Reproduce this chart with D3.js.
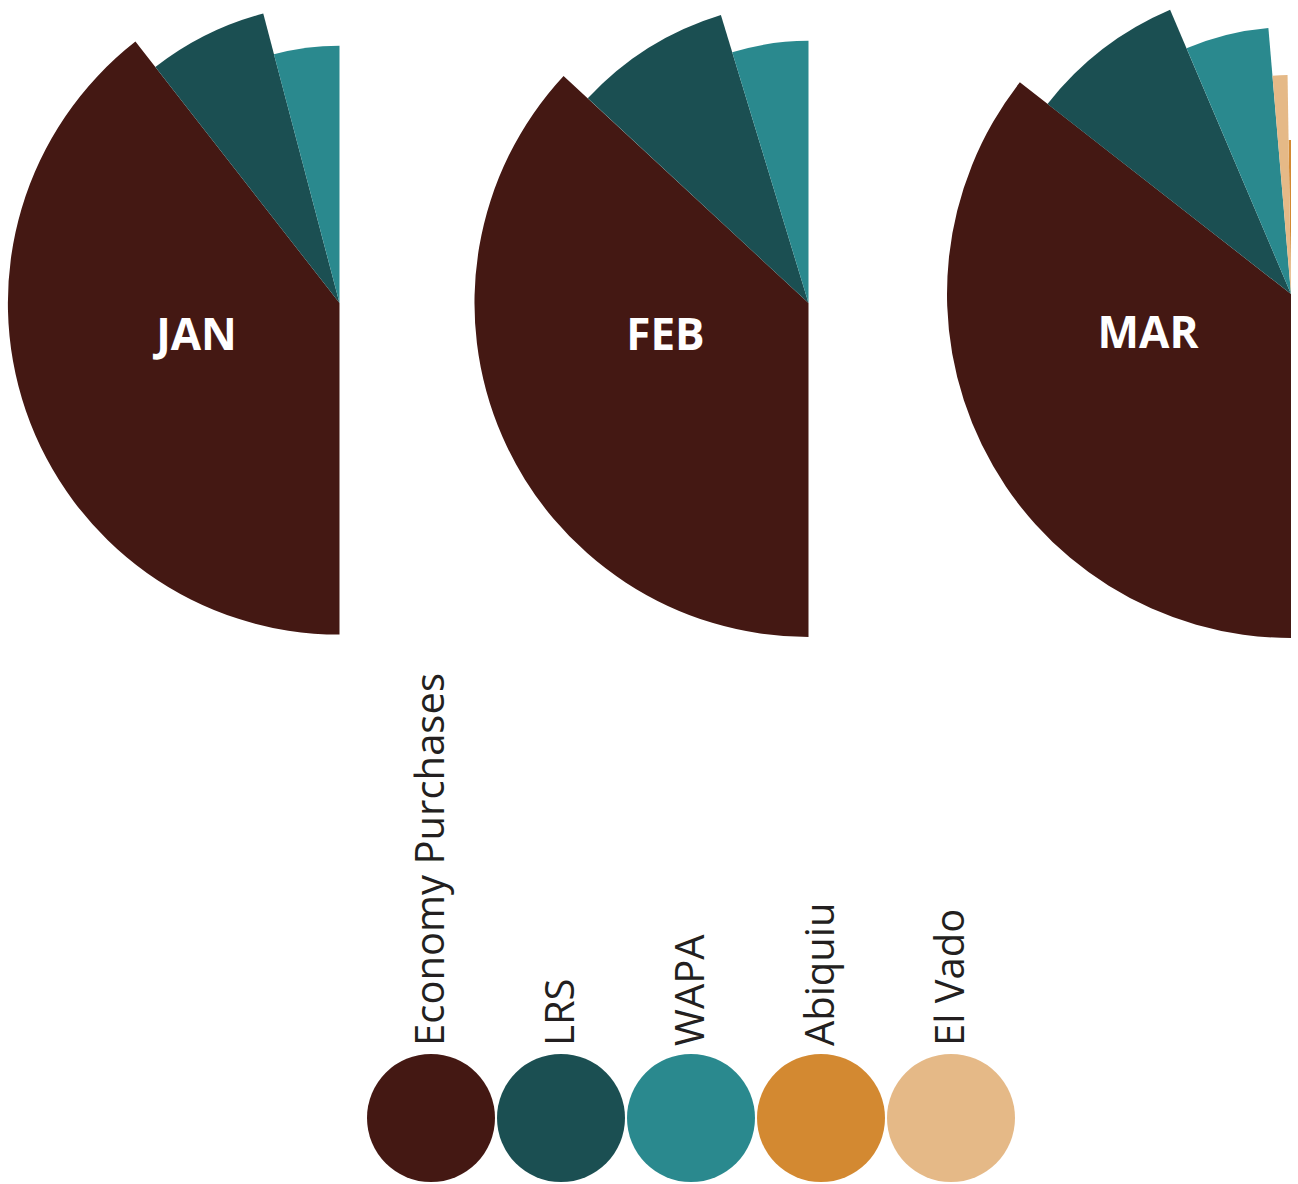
<!DOCTYPE html>
<html>
<head>
<meta charset="utf-8">
<script src="https://cdn.jsdelivr.net/npm/d3@7"></script>
<style>
  html, body { margin: 0; padding: 0; background: #ffffff; }
  svg { display: block; }
</style>
</head>
<body>
<svg id="chart" width="1298" height="1184"></svg>
<script>
// ---------- data ----------
const months = ["JAN", "FEB", "MAR"];
const sources = ["Economy Purchases", "LRS", "WAPA", "Abiquiu", "El Vado"];
const colors = ["#441813", "#1b4f52", "#2a898e", "#d38931", "#e5b987"];

// share of the month's supply (%), drives the angular extent
const economyShare = [78.9, 73.8, 71.1];
const lrsShare     = [12.9, 16.8, 16.1];
const wapaShare    = [8.2, 9.4, 10.1];
const abiquiuShare = [0, 0, 0.5];
const elVadoShare  = [0, 0, 2.2];

// radial magnitude (relative index), drives the slice radius
const economyMag = [96.4, 97.1, 100];
const lrsMag     = [87.0, 87.5, 89.8];
const wapaMag    = [74.8, 76.2, 77.6];
const abiquiuMag = [0, 0, 44.8];
const elVadoMag  = [0, 0, 63.7];

// ---------- layout ----------
const centers = [[339.5, 303], [808.5, 303], [1291, 294]];
const labelY = [350, 350, 348];

const shares = [economyShare, lrsShare, wapaShare, abiquiuShare, elVadoShare];
const mags = [economyMag, lrsMag, wapaMag, abiquiuMag, elVadoMag];

const svg = d3.select("#chart");
const color = d3.scaleOrdinal().domain(sources).range(colors);
const rScale = d3.scaleLinear().domain([0, 100]).range([0, 344]);

const pie = d3.pie()
  .value(d => d.share)
  .sort((a, b) => b.share - a.share)
  .startAngle(Math.PI)
  .endAngle(2 * Math.PI);

const arc = d3.arc()
  .innerRadius(0)
  .outerRadius(d => rScale(d.data.mag));

months.forEach((m, mi) => {
  const rows = sources.map((s, si) => ({
    source: s, share: shares[si][mi], mag: mags[si][mi]
  })).filter(d => d.share > 0);

  const g = svg.append("g")
    .attr("transform", `translate(${centers[mi][0]},${centers[mi][1]})`);

  g.selectAll("path")
    .data(pie(rows))
    .join("path")
    .attr("d", arc)
    .attr("fill", d => color(d.data.source));

  svg.append("text")
    .attr("x", centers[mi][0] - 143)
    .attr("y", labelY[mi])
    .attr("text-anchor", "middle")
    .attr("font-family", "'Open Sans', sans-serif")
    .attr("font-weight", 700)
    .attr("font-size", 44)
    .attr("fill", "#ffffff")
    .text(m);
});

// ---------- legend ----------
const legendX = d3.scalePoint().domain(sources).range([431, 951]);
const legendY = 1118, legendR = 64;

const lg = svg.append("g");
sources.forEach(s => {
  const cx = legendX(s);
  lg.append("circle")
    .attr("cx", cx).attr("cy", legendY).attr("r", legendR)
    .attr("fill", color(s));
  lg.append("text")
    .attr("transform", `translate(${cx + 13},${legendY - legendR - 8}) rotate(-90)`)
    .attr("text-anchor", "start")
    .attr("font-family", "'Open Sans', sans-serif")
    .attr("font-size", 40)
    .attr("fill", "#231f20")
    .text(s);
});
</script>
</body>
</html>
